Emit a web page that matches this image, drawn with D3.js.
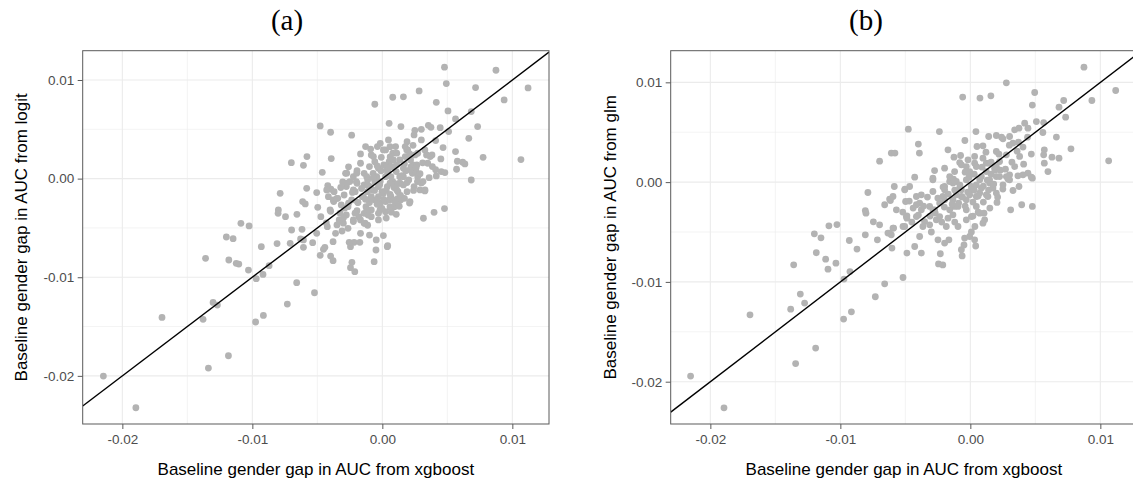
<!DOCTYPE html>
<html>
<head>
<meta charset="utf-8">
<script src="https://cdn.jsdelivr.net/npm/d3@7"></script>
<style>
  body { margin: 0; background: #ffffff; }
  svg { display: block; }
</style>
</head>
<body>
<div id="chart"></div>
<script>
const POINT = '#b3b3b3';
const GRID = '#ebebeb';
const BORDER = '#5a5a5a';
const TICK_TEXT = '#4d4d4d';
const SANS = '"Liberation Sans", Arial, Helvetica, sans-serif';
const SERIF = '"Liberation Serif", "Times New Roman", serif';

const titles = ['(a)', '(b)'];
const xTitle = 'Baseline gender gap in AUC from xgboost';
const yTitles = ['Baseline gender gap in AUC from logit', 'Baseline gender gap in AUC from glm'];

const xTicks = [-0.02, -0.01, 0, 0.01];
const xTickLabels = ['-0.02', '-0.01', '0.00', '0.01'];
const yTicks = [-0.02, -0.01, 0, 0.01];
const yTickLabels = ['-0.02', '-0.01', '0.00', '0.01'];
const minorTicks = [-0.015, -0.005, 0.005];

// axis limits (ggplot adds 5% around the data)
const xLimits = [-0.02305, 0.01282];
const yLimitsA = [-0.02488, 0.01297];
const yLimitsB = [-0.02424, 0.01317];

// [xgboost gap, logit gap]
const gapsLogit = [
  [0.00478,0.0113],[0.00492,0.00964],[0.00283,0.00889],[0.0008,0.00825],[0.00162,0.00829],
  [-0.00058,0.00754],[0.00415,0.00774],[0.00874,0.01099],[0.00717,0.00923],[0.01121,0.0092],
  [0.00937,0.00798],[0.00505,0.00686],[0.00684,0.0068],[0.00563,0.00605],[0.00733,0.00528],
  [0.00052,0.00561],[0.00143,0.00528],[-0.00478,0.00534],[-0.00398,0.0047],[-0.00236,0.0044],
  [0.0025,0.0049],[0.003,0.005],[0.00354,0.0054],[0.00374,0.0052],[0.00445,0.00517],
  [0.0051,0.00477],[0.00665,0.00409],[0.0041,0.00386],[0.00467,0.00315],[0.00775,0.00216],
  [0.01066,0.00193],[0.00563,0.00274],[0.00577,0.00176],[0.00618,0.00166],[0.00635,0.00149],
  [0.00571,0.00095],[0.00684,-0.00014],[0.00453,0.00071],[0.00481,0.00061],[0.00415,0.00027],
  [0.00478,-0.00304],[0.00398,-0.00342],[0.00316,-0.00402],[0.00327,-0.00125],[0.003,-0.00044],
  [0.00209,-0.00247],[0.00107,-0.00362],[0.00008,-0.00578],[0.00038,-0.0069],[0.00041,-0.0068],
  [-0.00047,-0.00622],[-0.00049,-0.00724],[-0.00063,-0.00842],[-0.00099,-0.00572],[-0.00234,-0.00849],
  [-0.00245,-0.00903],[-0.00212,-0.00944],[-0.00217,-0.00646],[-0.00245,-0.0069],[-0.00173,-0.00646],
  [-0.00255,-0.00646],[-0.00379,-0.00832],[-0.00398,-0.00785],[-0.00478,-0.00778],[-0.00453,-0.00717],
  [-0.00442,-0.00697],[-0.00379,-0.00639],[-0.00536,-0.00649],[-0.00522,-0.01157],[-0.00659,-0.01055],
  [-0.00731,-0.01272],[-0.00607,-0.00697],[-0.00607,-0.00622],[-0.00698,-0.00521],[-0.00618,-0.00514],
  [-0.00629,-0.00612],[-0.00709,-0.00656],[-0.0081,-0.00659],[-0.00931,-0.0069],[-0.00871,-0.00883],
  [-0.00918,-0.00971],[-0.0097,-0.01015],[-0.0103,-0.00927],[-0.01104,-0.00866],[-0.01124,-0.00859],
  [-0.01181,-0.00825],[-0.0136,-0.00808],[-0.012,-0.00592],[-0.01148,-0.00609],[-0.01088,-0.00453],
  [-0.01025,-0.0048],[-0.01302,-0.01255],[-0.01269,-0.01282],[-0.01379,-0.01427],[-0.01695,-0.01407],
  [-0.01184,-0.01796],[-0.01338,-0.01921],[-0.00915,-0.01387],[-0.00975,-0.01454],[-0.02146,-0.02002],
  [-0.01896,-0.02323],[-0.00786,-0.00149],[-0.008,-0.00318],[-0.00802,-0.00352],[-0.00745,-0.00386],
  [-0.00657,-0.00362],[-0.00613,-0.00233],[-0.00593,-0.00257],[-0.00582,-0.00098],[-0.00505,-0.00142],
  [-0.00497,-0.00291],[-0.00473,-0.00386],[-0.00462,0.00064],[-0.007,0.00162],[-0.00607,0.00135],
  [-0.0058,0.00223],[-0.00393,0.00203],[-0.00283,0.00054],[-0.00305,-0.00034],[-0.0042,-0.00071],
  [-0.00396,-0.00108],[-0.00371,-0.00132],[-0.00374,-0.00233],[-0.00415,-0.00183],[-0.00398,-0.00331],
  [-0.00431,-0.0045],[-0.00423,-0.00487],[-0.00505,-0.00555],[-0.0031,-0.00531],[-0.00349,-0.0047],
  [-0.00332,-0.00419],[-0.00223,-0.00436],[-0.00168,-0.00419],[-0.0014,-0.00453],[-0.00085,-0.00386],
  [-0.0003,-0.00419],[-0.00113,-0.00473],[-0.00277,-0.00369],[-0.00264,-0.00284],[-0.00195,-0.00325],
  [-0.00187,-0.00243],[-0.00236,-0.00216],[-0.00294,-0.00166],[-0.00277,-0.00081],[-0.00223,0.0002],
  [-0.00195,0.00081],[-0.00168,0.00156],[-0.00168,0.0025],[-0.00129,0.00325],[-0.00038,0.00325],
  [-0.00016,0.00358],[-0.00085,0.0024],[-0.00008,0.00216],[0.00047,0.00392],[0.00102,0.00325],
  [0.0019,0.00375],[0.00195,0.00291],[0.00236,0.00338],[0.00272,0.00257],[0.00327,0.00291],
  [0.00368,0.00223],[0.00382,0.0024],[0.00349,0.00156],[0.00385,0.00122],[0.00236,0.00139],
  [0.00258,0.00071],[0.00272,0.0002],[0.00313,-0.0003],[0.00244,-0.00081],[0.0019,-0.00132],
  [0.0014,-0.00216],[0.00093,-0.00284],[0.00066,-0.00301],[0.00025,-0.00335],[-0.0003,-0.00352],
  [-0.00016,-0.0025],[-0.00058,-0.00216],[-0.00085,-0.00183],[-0.00113,-0.00132],[-0.0014,-0.00064],
  [-0.00113,-0.00014],[-0.00071,0.00054],[-0.0003,0.00105],[0.00011,0.00139],[0.00052,0.00172],
  [0.0008,0.00122],[0.00107,0.00071],[0.00134,0.0002],[0.0008,-0.0003],[0.00038,-0.00081],
  [-0.00003,-0.00132],[-0.0003,-0.00081],[-0.00058,-0.0003],[0.00025,0.0002],[0.00066,0.0002],
  [0.00093,-0.00081],[0.0012,-0.00132],[0.00066,-0.00183],[0.00025,-0.00233],[-0.0003,-0.00183],
  [-0.00071,-0.00115],[0.00162,-0.00064],[0.00203,-0.00014],[0.00162,0.00105],[0.00134,0.00189],
  [0.00176,0.00223],[0.00217,0.00189],[0.0008,0.00257],[0.00025,0.00291],[-0.00058,0.00172],
  [-0.00099,0.00122],[-0.0014,0.00054],[-0.00195,-0.00047],[-0.00209,-0.00132],[-0.00154,-0.00183],
  [-0.00126,-0.00284],[-0.00085,-0.00318],[-0.0014,-0.00352],[-0.00181,-0.00386],[-0.00316,-0.00267],
  [-0.00343,-0.002],[-0.0025,-0.0003],[0.00231,0.00054],[0.00176,0.00325],[0.00244,0.00443],
  [0.003,0.00392],[0.0034,0.0024],[0.00052,-0.00216],[-0.00003,-0.00301],[0.0012,-0.002],
  [-0.00099,-0.00243],[-0.00016,-0.0003],[0.00038,0.00088],[-0.00264,-0.00504],[-0.0036,-0.00555],
  [-0.00168,-0.00555],[0.00059,-0.00047],[0.00111,-0.00115],[0.00008,-0.00148],[-0.00043,-0.00216],
  [0.00085,-0.00216],[0.00162,0.0002],[0.00213,0.00088],[0.00034,0.00122],[0.00085,0.0019],
  [-0.00043,0.0002],[-0.00095,-0.00081],[-0.00146,-0.00183],[-0.0012,-0.00317],[-0.00018,-0.00317],
  [0.00059,-0.00284],[0.00136,-0.00047],[0.00265,0.00139],[0.0029,-0.00115],[0.00328,-0.00115],
  [0.00213,-0.00233],[-0.00197,0.00055],[-0.00274,-0.00047],[-0.00069,0.00223],[0.00008,0.00291],
  [0.00059,0.00324],[0.00111,0.00258],[0.00188,0.00291],[0.00252,0.0024],[-0.003,-0.00452],
  [-0.00223,-0.00419],[-0.00133,-0.00452],[-0.00325,-0.00351],[-0.00402,-0.00317],[-0.00377,-0.00216],
  [-0.00428,-0.00115],[-0.00274,0.00055],[-0.00223,-0.00115],
  [0.0003,-0.0012],[0.0006,-0.0016],[0.0009,-0.0009],[0.0012,-0.0005],[0.0015,0.0003],
  [0.0018,0.0008],[0.0004,0.0006],[-0.0002,-0.0006],[-0.0006,-0.0012],[-0.0009,-0.002],
  [-0.0004,-0.0026],[0.0001,-0.0021],[0.001,-0.0024],[0.0014,-0.0017],[0.0019,-0.0004],
  [0.0022,0.0012],[0.0017,0.0015],[0.0011,0.0014],[0.0005,0.0011],[-0.0001,0.0008],
  [-0.0007,0.0001],[-0.0011,-0.0007],[-0.0016,-0.001],[-0.0019,-0.0024],[-0.0013,-0.0021],
  [-0.0023,-0.0014],[-0.0026,-0.0025],[-0.0029,-0.003],[-0.0021,-0.0035],[-0.0011,-0.0037],
  [0.0003,-0.004],[0.0007,-0.0034],[0.0013,-0.0028],[0.0017,-0.002],[0.0024,-0.0012],
  [0.0027,-0.0003],[0.0029,0.0005],[0.0026,0.0011],[0.0031,0.0016],[0.0006,0.0022],
  [-0.0004,0.0013],[-0.0012,0.0002],[-0.002,-0.0003],[-0.0032,-0.0009],[-0.0035,-0.002],
  [-0.003,-0.004],[0.0045,0.002],[0.0041,0.0009],[0.0036,0.0001],[0.0021,0.0025],
  [-0.0009,0.003],[-0.0026,0.0012]
];

// [xgboost gap, glm gap]
const gapsGlm = [
  [0.00874,0.01152],[0.01118,0.00918],[0.00935,0.00818],[0.00733,0.00651],[0.00718,0.00818],
  [0.00682,0.00751],[0.00774,0.00334],[0.01064,0.00213],[0.00662,0.00451],[0.00682,0.0024],
  [0.00628,0.0025],[0.00597,0.00106],[0.00569,0.00324],[0.00564,0.00274],[0.00569,0.0019],
  [0.00564,0.00597],[0.00508,0.00607],[0.00495,0.00898],[0.00477,0.00772],[0.00277,0.00995],
  [0.00158,0.00865],[0.00074,0.00842],[-0.00059,0.00852],[-0.00477,0.00531],[-0.00238,0.00507],
  [-0.004,0.00381],[-0.00392,0.00291],[0.00043,0.00507],[-0.00042,0.00417],[0.00141,0.00457],
  [0.002,0.00467],[0.00051,0.00357],[0.00097,0.00364],[-0.00172,0.00324],[-0.00126,0.0025],
  [-0.00075,0.00267],[-0.00082,0.00196],[0.00251,0.00434],[0.00302,0.00457],[0.00341,0.00524],
  [0.00374,0.00541],[0.00418,0.00591],[0.00443,0.00541],[0.00558,0.00497],[0.00328,0.00391],
  [0.00405,0.00351],[0.00469,0.00281],[0.00379,0.00257],[0.00341,0.00156],[0.00443,0.0009],
  [0.00469,0.0005],[0.00405,0.00073],[0.00366,0.00063],[0.00302,0.00073],[0.00302,0.00023],
  [0.00374,-0.00044],[0.00328,-0.00084],[0.00395,-0.00227],[0.00477,-0.00244],[0.0031,-0.00278],
  [0.00205,-0.00204],[0.0011,-0.00378],[0.00097,-0.00411],[0.00035,-0.00445],[-0.00005,-0.00545],
  [-0.00044,-0.00561],[-0.00185,-0.00445],[-0.00275,-0.00278],[-0.0039,-0.0021],[-0.00498,-0.00194],
  [-0.00505,-0.00077],[-0.00467,-0.00044],[-0.00428,0.0005],[-0.00275,0.00116],[-0.00198,0.0014],
  [-0.00288,0.00023],[-0.00377,-0.00127],[-0.00488,-0.00338],[-0.00415,-0.00345],[-0.00288,-0.00094],
  [-0.00159,0.00056],[-0.00121,0.00106],[-0.00031,0.00156],[0.00033,0.0019],[0.00123,0.0019],
  [0.00187,0.0014],[0.00225,0.00206],[0.00277,0.00274],[0.002,0.00056],[0.00148,-0.0001],
  [0.00072,0.00023],[0.00008,-0.00044],[-0.00082,-0.0006],[-0.00134,-0.0001],[-0.00198,-0.00044],
  [-0.00211,-0.00144],[-0.00134,-0.00177],[-0.00069,-0.00144],[-0.00005,-0.00127],[0.00072,-0.0011],
  [0.00135,-0.00144],[0.002,-0.0011],[0.00251,-0.00027],[0.00046,-0.00244],[-0.00031,-0.00278],
  [-0.00095,-0.00244],[-0.00236,-0.0021],[-0.00313,-0.00244],[-0.00352,-0.00395],[-0.00262,-0.00378],
  [-0.00134,-0.00328],[0.00072,-0.00311],[-0.00031,-0.00378],
  [-0.02152,-0.01944],[-0.01895,-0.02262],[-0.01695,-0.0133],[-0.01359,-0.00829],[-0.01382,-0.01273],
  [-0.01308,-0.01122],[-0.01275,-0.01212],[-0.01344,-0.01818],[-0.0119,-0.01663],[-0.012,-0.00518],
  [-0.01149,-0.00558],[-0.01185,-0.00708],[-0.01113,-0.00772],[-0.01095,-0.00872],[-0.01034,-0.00812],
  [-0.01088,-0.00438],[-0.01026,-0.00425],[-0.00972,-0.00972],[-0.00926,-0.00896],[-0.00975,-0.01373],
  [-0.00915,-0.013],[-0.00931,-0.00585],[-0.00872,-0.00671],[-0.00808,-0.00285],[-0.00803,-0.00311],
  [-0.00808,-0.00528],[-0.00746,-0.00398],[-0.00698,-0.00428],[-0.00715,-0.00578],[-0.00731,-0.01149],
  [-0.00659,-0.01019],[-0.00634,-0.00511],[-0.00608,-0.00528],[-0.00603,-0.00661],[-0.00659,-0.00227],
  [-0.00615,-0.00184],[-0.0059,-0.00461],[-0.00518,-0.00956],[-0.00488,-0.00711],[-0.00505,-0.00445],
  [-0.00488,-0.00361],
  [-0.00698,0.0021],[-0.00608,0.00291],[-0.0058,0.00291],[-0.00788,-0.00104],[-0.00585,-0.00044],
  [-0.00621,-0.0017],[-0.00595,-0.00144],[-0.00503,-0.0007],[-0.00492,-0.00345],[-0.00518,-0.00445],
  [-0.00595,-0.00461],[-0.00621,-0.00511],
  [0.002,0.00307],[0.00477,0.0004],[0.00105,-0.00311],[0.00033,-0.00578],[-0.00069,-0.00678],
  [-0.00165,-0.00578],[-0.00198,-0.00611],[-0.00249,-0.00578],[-0.00313,-0.00428],[-0.00365,-0.00445],
  [-0.0039,-0.00545],[-0.00428,-0.00645],[-0.00377,-0.00711],[-0.00231,-0.00718],[-0.00569,-0.00278],
  [-0.00415,-0.00144],[-0.00415,-0.00227],[-0.00377,-0.00278],[-0.00288,-0.00278],[-0.00236,-0.00345],
  [-0.00172,-0.00361],[-0.00288,0.0004],[-0.00108,0.00006],[-0.00031,0.00023],[0.00046,-0.00027],
  [0.00148,0.00023],[0.00225,0.00056],[0.002,0.00156],[0.00123,0.00106],[0.00046,0.00156],
  [-0.00005,0.00106],[-0.00108,-0.00127],[-0.00031,-0.00177],[0.00046,-0.00144],[0.00123,-0.00127],
  [0.00174,-0.0006],[0.00277,0.00056],[0.00008,-0.00345],[-0.00121,-0.00244],[-0.00198,-0.00177],
  [-0.00198,-0.00077],[-0.00159,0.00006],[-0.00069,0.00173],[-0.00018,0.00223],[0.00033,0.00257],
  [0.00097,0.0024],[0.00148,0.0019],[0.00085,0.00056],[-0.00069,-0.00077],[0.00008,-0.00077],
  [0.00085,-0.0006],[-0.00159,-0.00278],[-0.00095,-0.00445],
  [-0.00245,-0.0082],[-0.00212,-0.0083],[-0.00063,-0.0074],[-0.00049,-0.0063],[0.00041,-0.0064],
  [0.00008,-0.005],
  [0.0003,-0.0008],[0.0006,-0.0014],[0.001,-0.0004],[0.0013,0.0002],[0.0016,0.0008],
  [0.0019,0.0012],[0.0003,0.0008],[-0.0002,-0.001],[-0.0006,-0.0015],[-0.0009,-0.0021],
  [-0.0004,-0.0024],[0.0002,-0.002],[0.001,-0.002],[0.0014,-0.0008],[0.0018,-0.0002],
  [0.0023,0.0012],[0.0016,0.002],[0.0009,0.0015],[-0.0001,0.0005],[-0.0008,-0.0003],
  [-0.0012,-0.0008],[-0.0017,-0.0012],[-0.002,-0.0025],[-0.0014,-0.0022],[-0.0025,-0.0016],
  [-0.0027,-0.0031],[-0.0031,-0.0034],[-0.0022,-0.004],[-0.0012,-0.004],[0.0002,-0.0034],
  [0.0006,-0.003],[0.0015,-0.0026],[0.0021,-0.0015],[0.0025,-0.0007],[0.0029,0.0003],
  [0.0027,0.0013],[0.0032,0.002],[0.0036,0.0031],[0.003,0.0037],[0.0022,0.0028],
  [0.0012,0.003],[-0.0004,0.001],[-0.0013,0.0003],[-0.0021,-0.0005],[-0.0033,-0.0015],
  [-0.0036,-0.0024],[-0.004,-0.0033],[-0.0045,-0.004],[-0.003,-0.005],[0.0041,0.0018],
  [0.0037,0.004],[0.0044,0.0045],[0.0024,0.0045],[-0.0044,-0.0026],[-0.0047,-0.0019],
  [-0.0052,-0.003]
];

const width = 1133;
const height = 479;

const svg = d3.select('#chart').append('svg')
  .attr('width', width)
  .attr('height', height);

function drawPanel(opt) {
  const w = opt.width;
  const h = opt.height;

  const x = d3.scaleLinear().domain(xLimits).range([0, w]);
  const y = d3.scaleLinear().domain(opt.yLimits).range([h, 0]);

  const g = svg.append('g')
    .attr('transform', `translate(${opt.left}, ${opt.top})`);

  g.append('clipPath')
    .attr('id', opt.id + '-clip')
    .append('rect')
    .attr('width', w)
    .attr('height', h);

  // minor grid
  const grid = g.append('g');
  grid.selectAll('.vminor')
    .data(minorTicks)
    .join('line')
    .attr('class', 'vminor')
    .attr('x1', d => x(d)).attr('x2', d => x(d))
    .attr('y1', 0).attr('y2', h)
    .attr('stroke', GRID).attr('stroke-width', 0.6);
  grid.selectAll('.hminor')
    .data(minorTicks)
    .join('line')
    .attr('class', 'hminor')
    .attr('x1', 0).attr('x2', w)
    .attr('y1', d => y(d)).attr('y2', d => y(d))
    .attr('stroke', GRID).attr('stroke-width', 0.6);

  // major grid
  grid.selectAll('.vmajor')
    .data(xTicks)
    .join('line')
    .attr('class', 'vmajor')
    .attr('x1', d => x(d)).attr('x2', d => x(d))
    .attr('y1', 0).attr('y2', h)
    .attr('stroke', GRID).attr('stroke-width', 1.1);
  grid.selectAll('.hmajor')
    .data(yTicks)
    .join('line')
    .attr('class', 'hmajor')
    .attr('x1', 0).attr('x2', w)
    .attr('y1', d => y(d)).attr('y2', d => y(d))
    .attr('stroke', GRID).attr('stroke-width', 1.1);

  const plot = g.append('g').attr('clip-path', `url(#${opt.id}-clip)`);

  plot.selectAll('circle')
    .data(opt.data)
    .join('circle')
    .attr('cx', d => x(d[0]))
    .attr('cy', d => y(d[1]))
    .attr('r', 3.4)
    .attr('fill', POINT);

  // 45 degree line y = x
  const line = d3.line()
    .x(d => x(d))
    .y(d => y(d));
  plot.append('path')
    .attr('d', line(xLimits))
    .attr('fill', 'none')
    .attr('stroke', '#000')
    .attr('stroke-width', 1.4);

  g.append('rect')
    .attr('width', w)
    .attr('height', h)
    .attr('fill', 'none')
    .attr('stroke', BORDER)
    .attr('stroke-width', 1);

  const xAxis = d3.axisBottom(x)
    .tickValues(xTicks)
    .tickFormat((d, i) => xTickLabels[i])
    .tickSize(5)
    .tickPadding(5);
  const xg = g.append('g')
    .attr('transform', `translate(0, ${h})`)
    .call(xAxis);

  const yAxis = d3.axisLeft(y)
    .tickValues(yTicks)
    .tickFormat((d, i) => yTickLabels[i])
    .tickSize(5)
    .tickPadding(3.5);
  const yg = g.append('g').call(yAxis);

  [xg, yg].forEach(ax => {
    ax.select('.domain').remove();
    ax.selectAll('.tick line').attr('stroke', BORDER);
    ax.selectAll('.tick text')
      .attr('fill', TICK_TEXT)
      .style('font-family', SANS)
      .style('font-size', '13.5px');
  });

  g.append('text')
    .attr('x', w / 2)
    .attr('y', 475 - opt.top)
    .attr('text-anchor', 'middle')
    .style('font-family', SANS)
    .style('font-size', '17px')
    .attr('fill', '#000')
    .text(xTitle);

  g.append('text')
    .attr('transform', `translate(${opt.yTitleX - opt.left}, ${h / 2}) rotate(-90)`)
    .attr('text-anchor', 'middle')
    .style('font-family', SANS)
    .style('font-size', '17px')
    .attr('fill', '#000')
    .text(opt.yTitle);

  svg.append('text')
    .attr('x', opt.titleX)
    .attr('y', 30)
    .attr('text-anchor', 'middle')
    .style('font-family', SERIF)
    .style('font-size', '29px')
    .attr('fill', '#000')
    .text(opt.title);
}

drawPanel({
  id: 'pa',
  left: 82.7, top: 50.7, width: 466.3, height: 373.3,
  yLimits: yLimitsA,
  data: gapsLogit,
  yTitle: yTitles[0], yTitleX: 27.5,
  title: titles[0], titleX: 287
});

drawPanel({
  id: 'pb',
  left: 670.7, top: 50.7, width: 466.3, height: 373.3,
  yLimits: yLimitsB,
  data: gapsGlm,
  yTitle: yTitles[1], yTitleX: 615.5,
  title: titles[1], titleX: 866
});
</script>
</body>
</html>
